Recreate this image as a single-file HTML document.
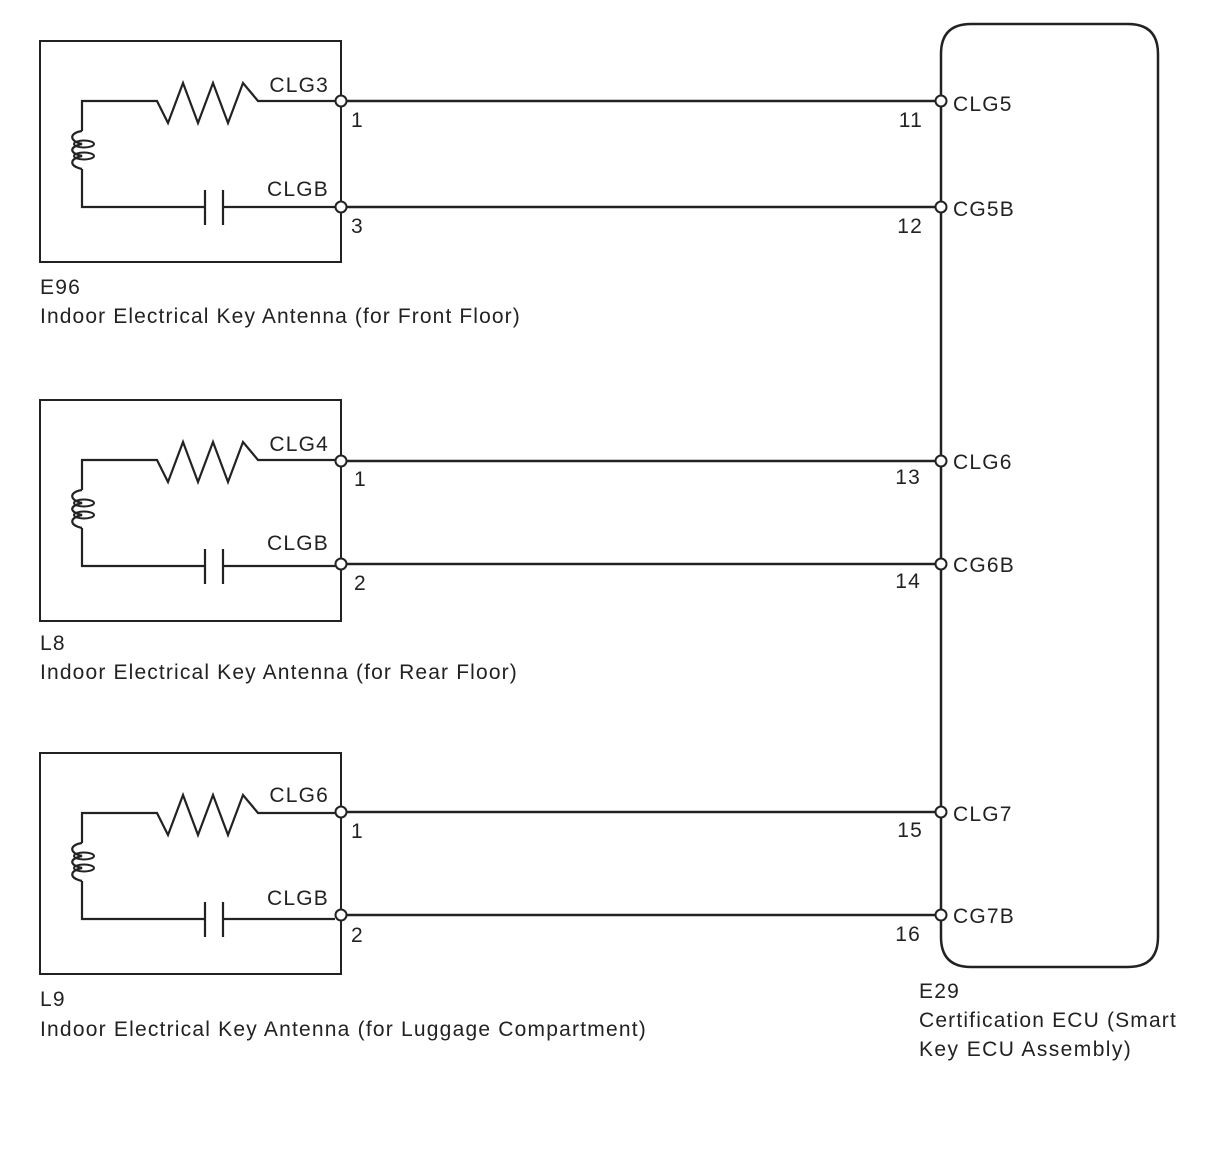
<!DOCTYPE html>
<html><head><meta charset="utf-8"><style>
html,body{margin:0;padding:0;background:#fff;}
svg text{font-family:"Liberation Sans",Arial,sans-serif;fill:#222;letter-spacing:1.2px;}
</style></head><body>
<svg width="1206" height="1146" viewBox="0 0 1206 1146" xmlns="http://www.w3.org/2000/svg">
<defs>
<g id="ant">
  <rect x="40" y="0" width="301" height="221" fill="none" stroke="#222" stroke-width="2"/>
  <polyline points="335,60 258,60 243,42 228,82 213,42 198,82 183,42 168,82 157,60 82,60 82,90" fill="none" stroke="#222" stroke-width="2.2"/>
  <path d="M82,90 C69,92 69,100 82,103 C69,106 69,112 82,115 C69,118 69,125 82,128" fill="none" stroke="#222" stroke-width="2.2"/>
  <ellipse cx="84" cy="103" rx="10" ry="3.5" fill="none" stroke="#222" stroke-width="2"/>
  <ellipse cx="84" cy="115" rx="10" ry="3.5" fill="none" stroke="#222" stroke-width="2"/>
  <polyline points="82,128 82,166 205,166" fill="none" stroke="#222" stroke-width="2.2"/>
  <line x1="205" y1="149" x2="205" y2="184" stroke="#222" stroke-width="2.2"/>
  <line x1="223" y1="149" x2="223" y2="184" stroke="#222" stroke-width="2.2"/>
  <line x1="223" y1="166" x2="335" y2="166" stroke="#222" stroke-width="2.2"/>
</g>
</defs>
<g fill="none" stroke="#222" stroke-width="2.5">
  <path d="M941,937 L941,54 Q941,24 971,24 L1128,24 Q1158,24 1158,54 L1158,937 Q1158,967 1128,967 L971,967 Q941,967 941,937 Z"/>
</g>
<g stroke="#222" stroke-width="2.5">
  <line x1="341" y1="101" x2="941" y2="101"/>
  <line x1="341" y1="207" x2="941" y2="207"/>
  <line x1="341" y1="461" x2="941" y2="461"/>
  <line x1="341" y1="564" x2="941" y2="564"/>
  <line x1="341" y1="812" x2="941" y2="812"/>
  <line x1="341" y1="915" x2="941" y2="915"/>
</g>
<use href="#ant" transform="translate(0,41)"/>
<use href="#ant" transform="translate(0,400)"/>
<use href="#ant" transform="translate(0,753)"/>
<g fill="#fff" stroke="#222" stroke-width="2">
  <circle cx="341" cy="101" r="5.5"/><circle cx="341" cy="207" r="5.5"/>
  <circle cx="341" cy="461" r="5.5"/><circle cx="341" cy="564" r="5.5"/>
  <circle cx="341" cy="812" r="5.5"/><circle cx="341" cy="915" r="5.5"/>
  <circle cx="941" cy="101" r="5.5"/><circle cx="941" cy="207" r="5.5"/>
  <circle cx="941" cy="461" r="5.5"/><circle cx="941" cy="564" r="5.5"/>
  <circle cx="941" cy="812" r="5.5"/><circle cx="941" cy="915" r="5.5"/>
</g>
<g font-size="21">
  <text x="329" y="92" text-anchor="end">CLG3</text>
  <text x="329" y="196" text-anchor="end">CLGB</text>
  <text x="329" y="451" text-anchor="end">CLG4</text>
  <text x="329" y="550" text-anchor="end">CLGB</text>
  <text x="329" y="802" text-anchor="end">CLG6</text>
  <text x="329" y="905" text-anchor="end">CLGB</text>
  <text x="351" y="127">1</text><text x="351" y="233">3</text>
  <text x="354" y="486">1</text><text x="354" y="590">2</text>
  <text x="351" y="838">1</text><text x="351" y="942">2</text>
  <text x="923" y="127" text-anchor="end">11</text><text x="923" y="233" text-anchor="end">12</text>
  <text x="921" y="484" text-anchor="end">13</text><text x="921" y="588" text-anchor="end">14</text>
  <text x="923" y="837" text-anchor="end">15</text><text x="921" y="941" text-anchor="end">16</text>
  <text x="953" y="111">CLG5</text><text x="953" y="216">CG5B</text>
  <text x="953" y="469">CLG6</text><text x="953" y="572">CG6B</text>
  <text x="953" y="821">CLG7</text><text x="953" y="923">CG7B</text>
  <text x="40" y="294">E96</text>
  <text x="40" y="323" textLength="481" lengthAdjust="spacing">Indoor Electrical Key Antenna (for Front Floor)</text>
  <text x="40" y="650">L8</text>
  <text x="40" y="679" textLength="478" lengthAdjust="spacing">Indoor Electrical Key Antenna (for Rear Floor)</text>
  <text x="40" y="1006">L9</text>
  <text x="40" y="1036" textLength="607" lengthAdjust="spacing">Indoor Electrical Key Antenna (for Luggage Compartment)</text>
  <text x="919" y="998">E29</text>
  <text x="919" y="1027" textLength="258" lengthAdjust="spacing">Certification ECU (Smart</text>
  <text x="919" y="1056" textLength="213" lengthAdjust="spacing">Key ECU Assembly)</text>
</g>
</svg>
</body></html>
